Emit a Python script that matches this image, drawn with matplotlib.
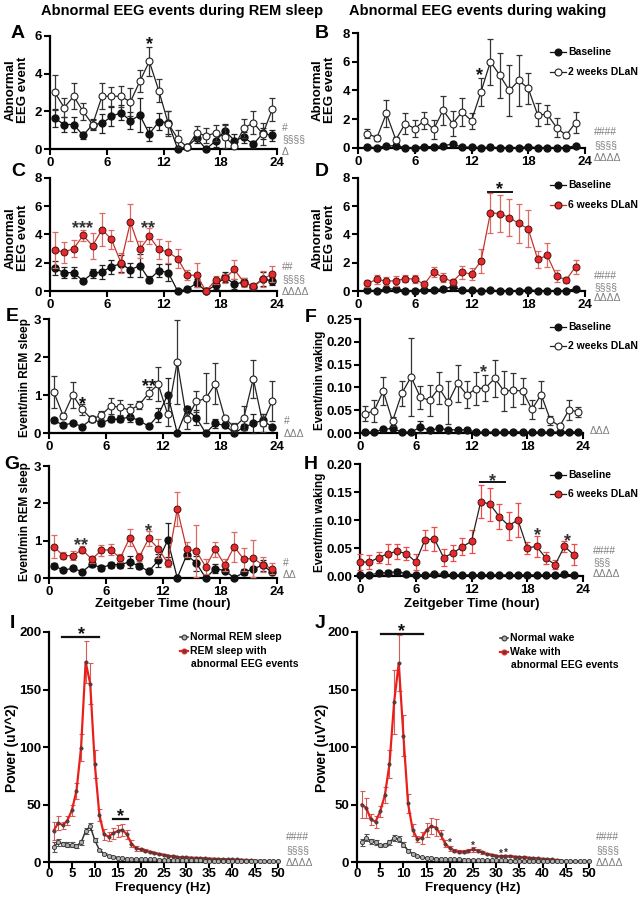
import matplotlib
matplotlib.use("Agg")
import matplotlib.pyplot as plt
import matplotlib.transforms as mtransforms
from matplotlib.lines import Line2D

plt.rcParams['font.family'] = ['Liberation Sans', 'DejaVu Sans']
plt.rcParams['font.weight'] = 'bold'
plt.rcParams['axes.labelweight'] = 'bold'

W, H = 641, 897

# ---------------- data ----------------
hours_rem = [0.5, 1.5, 2.5, 3.5, 4.5, 5.5, 6.5, 7.5, 8.5, 9.5, 10.5, 11.5,
             12.5, 13.5, 14.5, 15.5, 16.5, 17.5, 18.5, 19.5, 20.5, 21.5, 22.5, 23.5]
hours_wake = [1, 2, 3, 4, 5, 6, 7, 8, 9, 10, 11, 12, 13, 14, 15, 16, 17, 18, 19, 20, 21, 22, 23]
hours_f = [0.5, 1.5, 2.5, 3.5, 4.5, 5.5, 6.5, 7.5, 8.5, 9.5, 10.5, 11.5,
           12.5, 13.5, 14.5, 15.5, 16.5, 17.5, 18.5, 19.5, 20.5, 21.5, 22.5, 23.5]
hours_h = [0, 1, 2, 3, 4, 5, 6, 7, 8, 9, 10, 11, 12, 13, 14, 15, 16, 17, 18, 19, 20, 21, 22, 23]

# A: REM abnormal events, baseline vs 2 weeks DLaN
A_base = [1.63, 1.3, 1.3, 0.72, 1.3, 1.36, 1.73, 1.93, 1.5, 1.8, 0.8, 1.45,
          1.4, 0, 0.12, 0.57, 0, 0.42, 0.97, 0.45, 0.62, 0.25, 0.83, 0.72]
A_base_err = [0.47, 0.4, 0.4, 0.2, 0.3, 0.5, 0.5, 0.4, 0.45, 0.9, 0.35, 0.45,
              0.6, 0, 0.1, 0.25, 0, 0.3, 0.35, 0.35, 0.3, 0.2, 0.3, 0.3]
A_dlan = [3.0, 2.2, 2.8, 2.0, 1.3, 2.8, 2.8, 2.8, 2.5, 3.6, 4.65, 3.1,
          1.35, 0.55, 0.1, 0.85, 0.7, 0.85, 0.65, 0.15, 1.1, 1.4, 0.8, 2.1]
A_dlan_err = [0.95, 0.5, 0.7, 0.45, 0.25, 0.7, 0.5, 0.55, 0.75, 0.6, 0.75, 0.6,
              0.65, 0.45, 0.1, 0.35, 0.4, 0.45, 0.6, 0.1, 0.5, 0.6, 0.6, 0.6]

# B: waking abnormal events, baseline vs 2 weeks DLaN
B_base = [0.05, 0.03, 0.15, 0.15, 0.03, 0.03, 0.1, 0.1, 0.15, 0.28, 0.05, 0.07,
          0.03, 0.05, 0.03, 0.03, 0.03, 0.08, 0.03, 0.03, 0.03, 0.03, 0.15]
B_base_err = [0.03, 0.02, 0.08, 0.08, 0.02, 0.02, 0.05, 0.05, 0.08, 0.12, 0.03, 0.04,
              0.02, 0.03, 0.02, 0.02, 0.02, 0.05, 0.02, 0.02, 0.02, 0.02, 0.07]
B_dlan = [1.0, 0.72, 2.4, 0.58, 1.7, 1.35, 1.9, 1.3, 2.63, 1.7, 2.5, 1.9,
          3.9, 6.0, 5.05, 4.0, 4.7, 4.15, 2.3, 2.35, 1.42, 0.88, 1.77]
B_dlan_err = [0.3, 0.2, 0.95, 0.2, 0.7, 0.6, 0.6, 0.65, 1.0, 0.9, 0.95, 0.55,
              1.0, 1.6, 1.55, 1.8, 1.8, 1.1, 0.8, 0.65, 0.65, 0.15, 0.7]

# C: REM abnormal events, baseline vs 6 weeks DLaN
C_base = [1.6, 1.3, 1.3, 0.72, 1.25, 1.35, 1.73, 1.93, 1.5, 1.8, 0.8, 1.45,
          1.3, 0, 0.12, 0.55, 0, 0.42, 0.97, 0.5, 0.62, 0.3, 0.85, 0.72]
C_base_err = [0.5, 0.4, 0.4, 0.15, 0.3, 0.5, 0.5, 0.6, 0.5, 0.8, 0.25, 0.45,
              0.6, 0, 0.1, 0.3, 0, 0.25, 0.35, 0.35, 0.3, 0.2, 0.5, 0.3]
C_dlan = [2.9, 2.75, 3.0, 3.93, 3.2, 4.35, 3.65, 2.0, 4.87, 2.95, 3.88, 2.95,
          2.75, 2.3, 1.13, 1.1, 0, 0.78, 0.9, 1.53, 0.6, 0.37, 0.85, 1.2]
C_dlan_err = [1.25, 0.75, 0.6, 0.4, 0.9, 1.15, 0.7, 0.7, 1.3, 0.6, 0.55, 0.7,
              0.8, 0.7, 0.35, 0.85, 0, 0.3, 0.3, 0.67, 0.3, 0.2, 0.55, 0.55]

# D: waking abnormal events, baseline vs 6 weeks DLaN
D_base = [0.05, 0.03, 0.15, 0.15, 0.03, 0.03, 0.1, 0.1, 0.15, 0.3, 0.05, 0.07,
          0.03, 0.05, 0.03, 0.03, 0.03, 0.08, 0.03, 0.03, 0.03, 0.03, 0.15]
D_base_err = [0.03, 0.02, 0.08, 0.08, 0.02, 0.02, 0.05, 0.05, 0.08, 0.12, 0.03, 0.04,
              0.02, 0.03, 0.02, 0.02, 0.02, 0.05, 0.02, 0.02, 0.02, 0.02, 0.07]
D_dlan = [0.54, 0.82, 0.7, 0.73, 0.87, 0.85, 0.47, 1.36, 0.94, 0.66, 1.32, 1.2,
          2.12, 5.53, 5.48, 5.2, 4.78, 4.4, 2.24, 2.52, 1.06, 0.78, 1.72]
D_dlan_err = [0.25, 0.3, 0.3, 0.35, 0.25, 0.3, 0.2, 0.35, 0.3, 0.2, 0.45, 0.4,
              0.85, 1.4, 1.3, 1.3, 1.4, 1.3, 0.6, 0.85, 0.4, 0.2, 0.5]

# E: events/min REM sleep, baseline vs 2 weeks DLaN
E_base = [0.33, 0.21, 0.26, 0.17, 0.37, 0.27, 0.36, 0.36, 0.43, 0.32, 0.18, 0.47,
          1.01, 0, 0.62, 0.4, 0, 0.25, 0.2, 0, 0.15, 0.25, 0.34, 0.15]
E_base_err = [0.07, 0.05, 0.05, 0.03, 0.08, 0.08, 0.08, 0.08, 0.15, 0.08, 0.04, 0.18,
              0.45, 0, 0.1, 0.2, 0, 0.12, 0.05, 0, 0.08, 0.25, 0.15, 0.05]
E_dlan = [1.08, 0.45, 1.0, 0.62, 0.36, 0.47, 0.71, 0.68, 0.6, 0.74, 1.05, 1.28,
          0.49, 1.87, 0.36, 0.83, 0.91, 1.29, 0.4, 0.15, 0.39, 1.43, 0.26, 0.85]
E_dlan_err = [0.42, 0.08, 0.33, 0.15, 0.08, 0.1, 0.22, 0.2, 0.17, 0.1, 0.15, 0.45,
              0.3, 1.1, 0.25, 0.27, 0.66, 0.54, 0.05, 0.1, 0.31, 0.5, 0.24, 0.53]

# F: events/min waking, baseline vs 2 weeks DLaN
F_base = [0.002, 0.002, 0.008, 0.01, 0.002, 0.002, 0.013, 0.006, 0.01, 0.007, 0.007, 0.007,
          0.002, 0.002, 0.002, 0.002, 0.003, 0.002, 0.002, 0.002, 0.002, 0.002, 0.003, 0.002]
F_base_err = [0.001, 0.001, 0.004, 0.005, 0.001, 0.001, 0.013, 0.003, 0.003, 0.003, 0.003, 0.003,
              0.001, 0.001, 0.001, 0.001, 0.001, 0.001, 0.001, 0.001, 0.001, 0.001, 0.002, 0.001]
F_dlan = [0.0425, 0.048, 0.092, 0.026, 0.087, 0.123, 0.078, 0.072, 0.099, 0.067, 0.109, 0.084,
          0.097, 0.099, 0.12, 0.092, 0.094, 0.092, 0.052, 0.084, 0.028, 0.015, 0.051, 0.046]
F_dlan_err = [0.017, 0.024, 0.03, 0.01, 0.027, 0.085, 0.025, 0.034, 0.035, 0.048, 0.04, 0.03,
              0.036, 0.028, 0.04, 0.044, 0.037, 0.028, 0.021, 0.03, 0.01, 0.005, 0.022, 0.011]

# G: events/min REM sleep, baseline vs 6 weeks DLaN
G_base = [0.33, 0.21, 0.26, 0.17, 0.37, 0.27, 0.36, 0.36, 0.43, 0.32, 0.18, 0.47,
          1.01, 0, 0.62, 0.4, 0, 0.25, 0.2, 0, 0.15, 0.25, 0.34, 0.15]
G_base_err = [0.07, 0.05, 0.05, 0.03, 0.08, 0.08, 0.08, 0.08, 0.15, 0.08, 0.04, 0.18,
              0.45, 0, 0.1, 0.2, 0, 0.12, 0.05, 0, 0.08, 0.25, 0.15, 0.05]
G_dlan = [0.84, 0.6, 0.6, 0.76, 0.5, 0.74, 0.76, 0.53, 1.08, 0.56, 1.06, 0.79,
          0.4, 1.85, 0.77, 0.72, 0.3, 0.77, 0.35, 0.84, 0.5, 0.53, 0.35, 0.25]
G_dlan_err = [0.3, 0.1, 0.13, 0.1, 0.1, 0.15, 0.15, 0.1, 0.22, 0.1, 0.2, 0.25,
              0.1, 0.45, 0.2, 0.7, 0.2, 0.2, 0.15, 0.4, 0.3, 0.5, 0.2, 0.15]

# H: events/min waking, baseline vs 6 weeks DLaN
H_base = [0.002, 0.002, 0.005, 0.006, 0.008, 0.004, 0.002, 0.002, 0.004, 0.003, 0.002, 0.002,
          0.002, 0.002, 0.002, 0.002, 0.002, 0.002, 0.002, 0.002, 0.002, 0.002, 0.003, 0.002]
H_base_err = [0.001, 0.001, 0.003, 0.004, 0.004, 0.002, 0.001, 0.001, 0.002, 0.002, 0.001, 0.001,
              0.001, 0.001, 0.001, 0.001, 0.001, 0.001, 0.001, 0.001, 0.001, 0.001, 0.002, 0.001]
H_dlan = [0.025, 0.025, 0.0325, 0.04, 0.044, 0.04, 0.025, 0.065, 0.066, 0.033, 0.041, 0.052,
          0.062, 0.133, 0.128, 0.106, 0.09, 0.1, 0.05, 0.053, 0.032, 0.02, 0.053, 0.038]
H_dlan_err = [0.015, 0.012, 0.01, 0.018, 0.013, 0.012, 0.015, 0.018, 0.021, 0.015, 0.015, 0.015,
              0.021, 0.029, 0.03, 0.022, 0.025, 0.03, 0.01, 0.019, 0.01, 0.008, 0.01, 0.019]

# I, J: power spectra
freq = [1, 2, 3, 4, 5, 6, 7, 8, 9, 10, 11, 12, 13, 14, 15, 16, 17, 18, 19, 20, 21, 22, 23, 24, 25,
        26, 27, 28, 29, 30, 31, 32, 33, 34, 35, 36, 37, 38, 39, 40, 41, 42, 43, 44, 45, 46, 47, 48, 49, 50]
I_norm = [13, 17, 15.7, 15, 15, 14, 17, 27, 31, 19, 10.5, 7, 5.4, 4.3, 3.6, 3.2, 3.0, 2.8, 2.6, 2.5,
          2.4, 2.3, 2.2, 2.1, 2.0, 1.9, 1.8, 1.7, 1.6, 1.5, 1.45, 1.4, 1.35, 1.3, 1.25, 1.2, 1.15, 1.1,
          1.05, 1.0, 0.95, 0.9, 0.85, 0.8, 0.75, 0.7, 0.65, 0.6, 0.55, 0.5]
I_norm_err = [4, 3, 2, 2, 2, 2, 2, 3, 3, 2, 1, 0.8, 0.6, 0.5, 0.5, 0.5, 0.4, 0.4, 0.4, 0.4,
              0.3, 0.3, 0.3, 0.3, 0.3, 0.3, 0.3, 0.3, 0.3, 0.3, 0.3, 0.3, 0.3, 0.3, 0.3, 0.3, 0.3, 0.3,
              0.3, 0.3, 0.3, 0.3, 0.3, 0.3, 0.3, 0.3, 0.3, 0.3, 0.3, 0.3]
I_abn = [27, 34, 32, 36, 45, 62, 99.5, 174, 155, 85, 41, 24, 22, 25, 27, 28, 24, 16, 12, 11,
         10, 9, 8, 7, 6.3, 5.5, 4.9, 4.3, 4.0, 4.0, 3.8, 3.6, 3.4, 3.2, 3.0, 2.8, 2.6, 2.5, 2.4, 2.3,
         2.2, 2.0, 1.8, 1.5, 1.2, 1.0, 0.8, 0.6, 0.5, 0.5]
I_abn_err = [8, 6, 3, 4, 5, 7, 12, 18, 18, 12, 5, 5, 4, 5, 5, 5, 4, 3, 2, 1.5,
             1.2, 1, 1, 1, 1, 0.8, 0.8, 0.8, 0.7, 0.7, 0.6, 0.6, 0.6, 0.5, 0.5, 0.5, 0.5, 0.5, 0.5, 0.5,
             0.5, 0.5, 0.5, 0.5, 0.5, 0.5, 0.5, 0.5, 0.5, 0.5]
J_norm = [17, 21, 18, 17, 14.5, 15, 17, 21, 20, 15, 10, 7, 5, 4, 3.5, 3.2, 3.0, 2.8, 2.6, 2.4,
          2.3, 2.2, 2.1, 2.0, 1.9, 1.8, 1.7, 1.6, 1.5, 1.45, 1.4, 1.35, 1.3, 1.25, 1.2, 1.15, 1.1, 1.05,
          1.0, 0.95, 0.9, 0.85, 0.8, 0.75, 0.7, 0.65, 0.6, 0.55, 0.5, 0.5]
J_norm_err = [3, 3, 2, 2, 1.5, 1.5, 2, 2.5, 2.5, 2, 1, 0.8, 0.6, 0.5, 0.5, 0.5, 0.4, 0.4, 0.4, 0.4,
              0.3, 0.3, 0.3, 0.3, 0.3, 0.3, 0.3, 0.3, 0.3, 0.3, 0.3, 0.3, 0.3, 0.3, 0.3, 0.3, 0.3, 0.3,
              0.3, 0.3, 0.3, 0.3, 0.3, 0.3, 0.3, 0.3, 0.3, 0.3, 0.3, 0.3]
J_abn = [50, 47, 37, 35, 44, 58, 85, 139, 173, 110, 51, 28, 20, 21, 28, 31, 30, 24, 16, 12,
         10, 9, 9, 10, 11, 10, 8.5, 7, 6.3, 5.4, 5, 5.3, 5, 4.6, 4.3, 4, 3.7, 3.4, 3.1, 2.8,
         2.5, 2.2, 1.8, 1.2, 0.8, 0.5, 0.4, 0.3, 0.2, 0.2]
J_abn_err = [12, 9, 5, 5, 5, 7, 12, 28, 24, 18, 8, 5, 3, 5, 6, 7, 7, 4, 3, 2,
             1.5, 1.5, 1.5, 1.5, 2, 1.5, 1.5, 1, 1, 1, 1, 1, 1, 1, 1, 0.8, 0.8, 0.8, 0.8, 0.8,
             0.6, 0.6, 0.6, 0.5, 0.5, 0.4, 0.4, 0.3, 0.3, 0.3]

# ---------------- styles ----------------
RED = '#e8282b'
RED_LINE = '#c4352c'
RED_ERR = '#de6a66'
GRAY_TXT = '#7f7f7f'

fig = plt.figure(figsize=(W / 100, H / 100), dpi=100)


def make_ax(x0, y0, x1, y1, xlim, ylim, xticks, yticks, fs=9.5):
    ax = fig.add_axes([x0 / W, 1 - y1 / H, (x1 - x0) / W, (y1 - y0) / H])
    for s in ['top', 'right']:
        ax.spines[s].set_visible(False)
    for s in ['left', 'bottom']:
        ax.spines[s].set_linewidth(1.6)
    ax.set_xlim(*xlim)
    ax.set_ylim(*ylim)
    ax.set_xticks(xticks)
    ax.set_yticks(yticks)
    ax.tick_params(direction='out', length=4, width=1.5, labelsize=fs, pad=1.5)
    ax.patch.set_alpha(0)
    return ax


def ftext(x, y, s, **kw):
    kw.setdefault('ha', 'center')
    kw.setdefault('va', 'center')
    fig.text(x / W, 1 - y / H, s, **kw)


def series(ax, x, y, e, kind, z=3):
    if kind == 'base':
        ax.errorbar(x, y, yerr=e, fmt='none', ecolor='#222222', elinewidth=0.9,
                    capsize=2.5, capthick=0.9, zorder=z, clip_on=False)
        ax.plot(x, y, '-o', color='#111111', lw=0.9, ms=5, mfc='#111111', mec='#111111',
                zorder=z + 0.5, clip_on=False)
    elif kind == 'open':
        ax.errorbar(x, y, yerr=e, fmt='none', ecolor='#333333', elinewidth=0.9,
                    capsize=2.5, capthick=0.9, zorder=z, clip_on=False)
        ax.plot(x, y, '-o', color='#222222', lw=0.9, ms=5, mfc='white', mec='#222222',
                mew=0.8, zorder=z + 0.5, clip_on=False)
    elif kind == 'red':
        ax.errorbar(x, y, yerr=e, fmt='none', ecolor=RED_ERR, elinewidth=0.9,
                    capsize=2.5, capthick=0.9, zorder=z, clip_on=False)
        ax.plot(x, y, '-o', color=RED_LINE, lw=0.9, ms=5, mfc=RED, mec='#4a1515',
                mew=0.7, zorder=z + 0.5, clip_on=False)
    elif kind == 'redblack':
        ax.errorbar(x, y, yerr=e, fmt='none', ecolor='#f04a4a', elinewidth=0.9,
                    capsize=2.5, capthick=0.9, zorder=z, clip_on=False)
        ax.plot(x, y, '-o', color='#222222', lw=0.9, ms=5, mfc=RED, mec='#4a1515',
                mew=0.7, zorder=z + 0.5, clip_on=False)


def star(ax, x, y, s, fs=13, color='#111111'):
    tr = mtransforms.offset_copy(ax.transData, fig=fig, x=0, y=-0.56 * fs, units='points')
    ax.text(x, y, s, transform=tr, ha='center', va='baseline', fontsize=fs,
            fontweight='bold', color=color, clip_on=False)


def legend_entry(xh0, xh1, y, label, line_color, mfc, mec, ms=5, fs=7.5, lw=0.9):
    yy = 1 - y / H
    fig.add_artist(Line2D([xh0 / W, xh1 / W], [yy, yy], transform=fig.transFigure,
                          color=line_color, lw=lw))
    fig.add_artist(Line2D([(xh0 + xh1) / 2 / W], [yy], transform=fig.transFigure,
                          marker='o', ms=ms, mfc=mfc, mec=mec, mew=0.8, lw=0))
    if label:
        fig.text((xh1 + 2) / W, yy, label, ha='left', va='center', fontsize=fs,
                 fontweight='bold')


def side_marks(x, ys, texts, fs=7.5):
    for y, t in zip(ys, texts):
        ftext(x, y, t, ha='left', fontsize=fs, fontweight='normal', color=GRAY_TXT)


hticks = [0, 6, 12, 18, 24]

# titles
ftext(182, 11, 'Abnormal EEG events during REM sleep', fontsize=10.5, fontweight='bold')
ftext(478, 11, 'Abnormal EEG events during waking', fontsize=10.5, fontweight='bold')

# ---------------- A ----------------
axA = make_ax(50, 36, 277, 149, (0, 24), (0, 6), hticks, [0, 2, 4, 6])
series(axA, hours_rem, A_base, A_base_err, 'base')
series(axA, hours_rem, A_dlan, A_dlan_err, 'open', z=4)
star(axA, 10.5, 5.85, '*')
ftext(18, 33, 'A', fontsize=14, fontweight='bold')
ftext(17, 90, 'Abnormal\nEEG event', rotation=90, fontsize=9.5, fontweight='bold', linespacing=1.0)
side_marks(282, [128, 139, 152], ['#', '§§§§', 'Δ'])

# ---------------- B ----------------
axB = make_ax(358, 33, 585, 148, (0, 24), (0, 8), hticks, [0, 2, 4, 6, 8])
series(axB, hours_wake, B_base, B_base_err, 'base')
series(axB, hours_wake, B_dlan, B_dlan_err, 'open', z=4)
star(axB, 12.8, 5.45, '*')
ftext(322, 33, 'B', fontsize=14, fontweight='bold')
ftext(324, 90, 'Abnormal\nEEG event', rotation=90, fontsize=9.5, fontweight='bold', linespacing=1.0)
side_marks(594, [132, 145, 158], ['####', '§§§§', 'ΔΔΔΔ'])
legend_entry(550, 566, 52, 'Baseline', '#111111', '#111111', '#111111')
legend_entry(550, 566, 72, '2 weeks DLaN', '#222222', 'white', '#222222')

# ---------------- C ----------------
axC = make_ax(50, 178, 277, 291, (0, 24), (0, 8), hticks, [0, 2, 4, 6, 8])
series(axC, hours_rem, C_base, C_base_err, 'base')
series(axC, hours_rem, C_dlan, C_dlan_err, 'red', z=4)
star(axC, 3.4, 4.85, '***', color='#333333')
star(axC, 10.4, 4.85, '**', color='#333333')
ftext(18, 172, 'C', fontsize=14, fontweight='bold')
ftext(17, 238, 'Abnormal\nEEG event', rotation=90, fontsize=9.5, fontweight='bold', linespacing=1.0)
side_marks(282, [267, 279, 292], ['##', '§§§§', 'ΔΔΔΔ'])

# ---------------- D ----------------
axD = make_ax(358, 178, 585, 291, (0, 24), (0, 8), hticks, [0, 2, 4, 6, 8])
series(axD, hours_wake, D_base, D_base_err, 'base')
series(axD, hours_wake, D_dlan, D_dlan_err, 'red', z=4)
axD.plot([13.7, 16.3], [7.0, 7.0], color='#111111', lw=1.4, clip_on=False)
star(axD, 15.0, 7.6, '*')
ftext(322, 172, 'D', fontsize=14, fontweight='bold')
ftext(324, 238, 'Abnormal\nEEG event', rotation=90, fontsize=9.5, fontweight='bold', linespacing=1.0)
side_marks(594, [276, 287, 298], ['####', '§§§§', 'ΔΔΔΔ'])
legend_entry(550, 566, 185, 'Baseline', '#111111', '#111111', '#111111')
legend_entry(550, 566, 205, '6 weeks DLaN', RED_LINE, RED, '#4a1515')

# ---------------- E ----------------
axE = make_ax(49, 319, 277, 433, (0, 24), (0, 3), hticks, [0, 1, 2, 3])
series(axE, hours_rem, E_base, E_base_err, 'base')
series(axE, hours_rem, E_dlan, E_dlan_err, 'open', z=4)
star(axE, 3.5, 0.89, '*')
star(axE, 10.5, 1.38, '**')
ftext(12, 316, 'E', fontsize=14, fontweight='bold')
ftext(25, 378, 'Event/min REM sleep', rotation=90, fontsize=8.5, fontweight='bold')
side_marks(284, [421, 434], ['#', 'ΔΔΔ'])

# ---------------- F ----------------
axF = make_ax(360, 319, 583, 433, (0, 24), (0, 0.25), hticks,
              [0, 0.05, 0.10, 0.15, 0.20, 0.25])
axF.set_yticklabels(['0.00', '0.05', '0.10', '0.15', '0.20', '0.25'])
series(axF, hours_f, F_base, F_base_err, 'base')
series(axF, hours_f, F_dlan, F_dlan_err, 'open', z=4)
star(axF, 13.3, 0.144, '*', color='#333333')
ftext(311, 318, 'F', fontsize=14, fontweight='bold')
ftext(320, 380, 'Event/min waking', rotation=90, fontsize=8.5, fontweight='bold')
side_marks(590, [431], ['ΔΔΔ'])
legend_entry(550, 566, 327, 'Baseline', '#111111', '#111111', '#111111')
legend_entry(550, 566, 346, '2 weeks DLaN', '#222222', 'white', '#222222')

# ---------------- G ----------------
axG = make_ax(49, 466, 277, 578, (0, 24), (0, 3), hticks, [0, 1, 2, 3])
series(axG, hours_rem, G_base, G_base_err, 'base')
series(axG, hours_rem, G_dlan, G_dlan_err, 'red', z=4)
star(axG, 3.4, 1.02, '**', color='#333333')
star(axG, 10.5, 1.38, '*', color='#333333')
ftext(12, 464, 'G', fontsize=14, fontweight='bold')
ftext(25, 522, 'Event/min REM sleep', rotation=90, fontsize=8.5, fontweight='bold')
side_marks(283, [563, 575], ['#', 'ΔΔ'])
ftext(163, 604, 'Zeitgeber Time (hour)', fontsize=9.5, fontweight='bold')

# ---------------- H ----------------
axH = make_ax(360, 464, 583, 576, (0, 24), (0, 0.20), hticks,
              [0, 0.05, 0.10, 0.15, 0.20])
axH.set_yticklabels(['0.00', '0.05', '0.10', '0.15', '0.20'])
series(axH, hours_h, H_base, H_base_err, 'base')
series(axH, hours_h, H_dlan, H_dlan_err, 'redblack', z=4)
axH.plot([12.9, 15.6], [0.167, 0.167], color='#111111', lw=1.4, clip_on=False)
star(axH, 14.25, 0.179, '*', color='#333333')
star(axH, 19.1, 0.083, '*', color='#333333')
star(axH, 22.3, 0.071, '*', color='#333333')
ftext(311, 464, 'H', fontsize=14, fontweight='bold')
ftext(320, 522, 'Event/min waking', rotation=90, fontsize=8.5, fontweight='bold')
side_marks(593, [551, 562, 574], ['####', '§§§', 'ΔΔΔΔ'])
legend_entry(550, 566, 475, 'Baseline', '#111111', '#111111', '#111111')
legend_entry(550, 566, 494, '6 weeks DLaN', '#222222', RED, '#4a1515')
ftext(472, 604, 'Zeitgeber Time (hour)', fontsize=9.5, fontweight='bold')


# ---------------- I, J ----------------
def spectrum(ax, norm, norm_err, abn, abn_err):
    ax.errorbar(freq, abn, yerr=abn_err, fmt='none', ecolor='#d85a55', elinewidth=0.8,
                capsize=1.8, capthick=0.8, zorder=3)
    ax.plot(freq, abn, '-', color='#e8201c', lw=1.6, zorder=3.5)
    ax.plot(freq, abn, 'o', ms=2.4, mfc='#6b3a3a', mec='#333333', mew=0.4, zorder=3.6)
    ax.errorbar(freq, norm, yerr=norm_err, fmt='none', ecolor='#555555', elinewidth=0.8,
                capsize=1.8, capthick=0.8, zorder=4)
    ax.plot(freq, norm, '-', color='#333333', lw=1.1, zorder=4.5)
    ax.plot(freq, norm, 'o', ms=3, mfc='#b0b0b0', mec='#333333', mew=0.6, zorder=4.6,
            clip_on=False)


fticks = [0, 5, 10, 15, 20, 25, 30, 35, 40, 45, 50]
axI = make_ax(49, 632, 278, 862, (0, 50), (0, 200), fticks, [0, 50, 100, 150, 200], fs=9.5)
axI.tick_params(axis='x', pad=0.5)
spectrum(axI, I_norm, I_norm_err, I_abn, I_abn_err)
axI.plot([2.8, 11.0], [196, 196], color='#111111', lw=1.6, clip_on=False)
star(axI, 7.0, 203, '*')
axI.plot([13.9, 17.3], [37, 37], color='#111111', lw=1.6, clip_on=False)
star(axI, 15.6, 44, '*')
ftext(163, 888, 'Frequency (Hz)', fontsize=9.5, fontweight='bold')
ftext(12, 624, 'I', fontsize=14, fontweight='bold')
ftext(12, 748, 'Power (uV^2)', rotation=90, fontsize=10, fontweight='bold')
side_marks(286, [837, 850, 863], ['####', '§§§§', 'ΔΔΔΔ'])
legend_entry(180, 188, 637, 'Normal REM sleep', '#333333', '#b0b0b0', '#333333', ms=3.5, lw=1.1)
legend_entry(180, 188, 651, 'REM sleep with', '#e8201c', '#6b3a3a', '#e8201c', ms=3.5, lw=1.6)
ftext(191, 664, 'abnormal EEG events', ha='left', fontsize=7.5, fontweight='bold')

axJ = make_ax(357, 632, 589, 862, (0, 50), (0, 200), fticks, [0, 50, 100, 150, 200], fs=9.5)
axJ.tick_params(axis='x', pad=0.5)
spectrum(axJ, J_norm, J_norm_err, J_abn, J_abn_err)
axJ.plot([5.2, 14.2], [198, 198], color='#111111', lw=1.6, clip_on=False)
star(axJ, 9.5, 205, '*')
for fx, fy in [(20, 19), (25, 16), (31, 9), (32, 10)]:
    star(axJ, fx, fy, '*', fs=7, color='#333333')
ftext(473, 888, 'Frequency (Hz)', fontsize=9.5, fontweight='bold')
ftext(320, 624, 'J', fontsize=14, fontweight='bold')
ftext(322, 748, 'Power (uV^2)', rotation=90, fontsize=10, fontweight='bold')
side_marks(596, [837, 850, 863], ['####', '§§§§', 'ΔΔΔΔ'])
legend_entry(500, 508, 638, 'Normal wake', '#333333', '#b0b0b0', '#333333', ms=3.5, lw=1.1)
legend_entry(500, 508, 652, 'Wake with', '#e8201c', '#6b3a3a', '#e8201c', ms=3.5, lw=1.6)
ftext(511, 665, 'abnormal EEG events', ha='left', fontsize=7.5, fontweight='bold')

fig.savefig('out.png', dpi=100)
